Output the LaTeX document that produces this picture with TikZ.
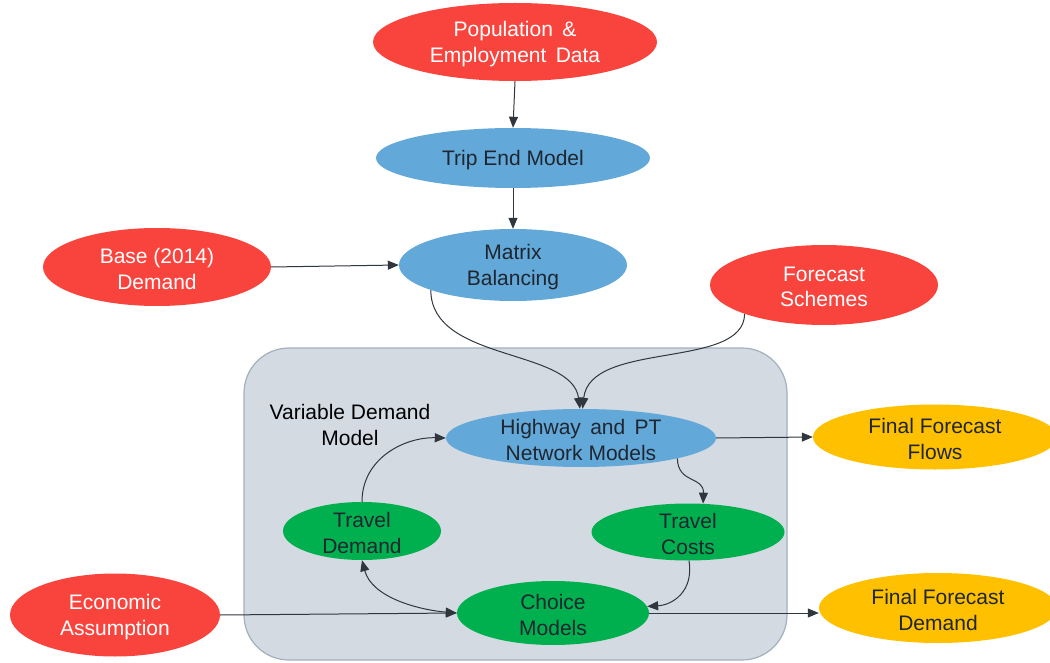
\documentclass[tikz,border=0pt]{standalone}
\usepackage{fontspec}
\setmainfont{Liberation Sans}
\usetikzlibrary{shapes.geometric,arrows.meta}
\definecolor{cred}{HTML}{F9443E}
\definecolor{cblue}{HTML}{62A8D8}
\definecolor{cgreen}{HTML}{00B04F}
\definecolor{cyellow}{HTML}{FFC000}
\definecolor{cbox}{HTML}{D3DAE2}
\definecolor{cboxline}{HTML}{A3B0BF}
\definecolor{cline}{HTML}{30363E}
\definecolor{ctext}{HTML}{1F2630}
\tikzset{
  ell/.style={ellipse, inner sep=0pt, draw=none},
  lbl/.style={align=center, inner sep=0pt, yshift=-2pt, font=\fontsize{21}{25.5}\selectfont},
  redn/.style={ell, fill=cred},
  bluen/.style={ell, fill=cblue},
  greenn/.style={ell, fill=cgreen},
  yelln/.style={ell, fill=cyellow},
  wt/.style={lbl, text=white},
  dt/.style={lbl, text=ctext},
  arr/.style={draw=cline, line width=1pt, -{Triangle[length=11pt,width=9pt]}},
  darr/.style={draw=cline, line width=1pt, {Triangle[length=11pt,width=9pt]}-{Triangle[length=11pt,width=9pt]}},
}
\begin{document}
\begin{tikzpicture}[x=1pt,y=-1pt]
\useasboundingbox (0,0) rectangle (1050,663);
% container
\node[draw=cboxline, fill=cbox, line width=1.2pt, rounded corners=45pt, minimum width=543pt, minimum height=312pt, inner sep=0pt] (box) at (515.5,504) {};
\node[lbl, text=black] (boxlbl) at (350,423) {Variable Demand\\Model};

% nodes
\node[redn, minimum width=284pt, minimum height=78pt] (pop) at (515,42) {};
\node[wt] (pop-t) at (pop) {Population \,\&\\Employment \,Data};
\node[bluen, minimum width=274pt, minimum height=60pt] (te) at (513,158) {};
\node[dt] (te-t) at (te) {Trip End Model};
\node[bluen, minimum width=228pt, minimum height=72pt] (mb) at (513,265) {};
\node[dt] (mb-t) at (mb) {Matrix\\Balancing};
\node[redn, minimum width=228pt, minimum height=78pt] (base) at (157,267) {};
\node[wt] (base-t) at (base) {Base (2014)\\Demand};
\node[redn, minimum width=228pt, minimum height=80pt] (fs) at (824,285) {};
\node[wt] (fs-t) at (fs) {Forecast\\Schemes};
\node[bluen, minimum width=270pt, minimum height=58pt] (hw) at (581,438) {};
\node[dt] (hw-t) at (hw) {Highway \,and \,PT\\Network Models};
\node[yelln, minimum width=244pt, minimum height=65pt] (fff) at (935,437) {};
\node[dt] (fff-t) at (fff) {Final Forecast\\Flows};
\node[greenn, minimum width=158pt, minimum height=58pt] (td) at (362,531) {};
\node[dt] (td-t) at (td) {Travel\\Demand};
\node[greenn, minimum width=193pt, minimum height=57pt] (tc) at (688,532) {};
\node[dt] (tc-t) at (tc) {Travel\\Costs};
\node[greenn, minimum width=192pt, minimum height=64pt] (cm) at (553,613) {};
\node[dt] (cm-t) at (cm) {Choice\\Models};
\node[redn, minimum width=210pt, minimum height=83pt] (ea) at (115,615) {};
\node[wt] (ea-t) at (ea) {Economic\\Assumption};
\node[yelln, minimum width=238pt, minimum height=70pt] (ffd) at (938,608) {};
\node[dt] (ffd-t) at (ffd) {Final Forecast\\Demand};

% connectors
\draw[arr] (pop.south) -- (te.north);
\draw[arr] (te.south) -- (mb.north);
\draw[arr] (base.east) -- (mb.west);
\draw[arr] (mb.197) .. controls (431,362) and (572,348) .. (hw.92);
\draw[arr] (fs.200) .. controls (744,370) and (590,340) .. (hw.87);
\draw[arr] (hw.east) -- (fff.west);
\draw[arr] (hw.348) .. controls (678,484) and (704,476) .. (tc.62);
\draw[arr] (tc.272) .. controls (694,592) and (672,605) .. (cm.4);
\draw[arr] (td.north) .. controls (362,458) and (405,437) .. (hw.west);
\draw[darr] (td.south) .. controls (372,598) and (420,610) .. (cm.west);
\draw[arr] (ea.east) -- (cm.west);
\draw[arr] (cm.east) -- (cm.east -| ffd.west);
\end{tikzpicture}
\end{document}
